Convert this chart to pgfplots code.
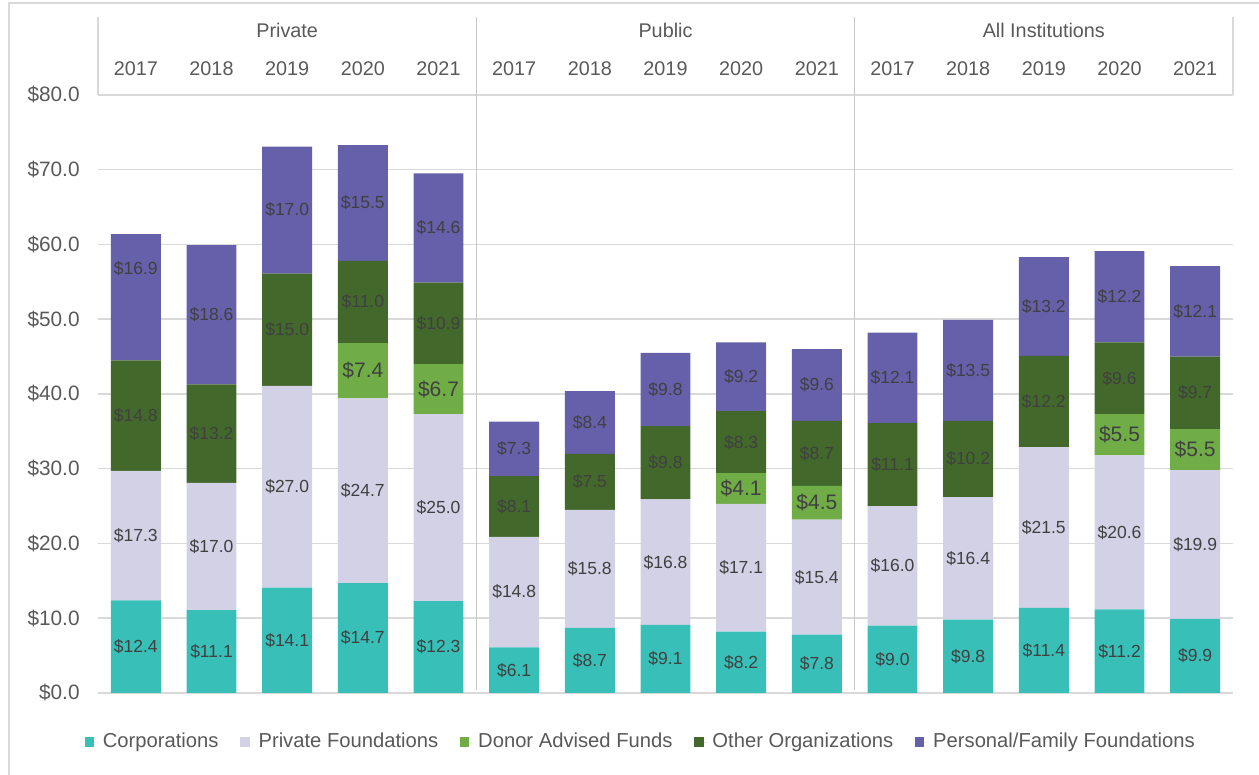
\documentclass[border=0pt]{standalone}
\usepackage{fontspec}
\setmainfont{Liberation Sans}
\usepackage{pgfplots}
\usepackage{pgfplotstable}
\pgfplotsset{compat=1.18}

\definecolor{corp}{HTML}{38BFB8}
\definecolor{pfnd}{HTML}{D3D1E6}
\definecolor{daf}{HTML}{70AD47}
\definecolor{oth}{HTML}{43682B}
\definecolor{pers}{HTML}{6560A9}
\definecolor{gridc}{HTML}{D9D9D9}
\definecolor{sepc}{HTML}{C8C8C8}
\definecolor{txt}{HTML}{595959}
\definecolor{lbl}{HTML}{404040}

% giving by institution type and year (billions)
\pgfplotstableread{
x  corp pf   daf oth  pers
0  12.4 17.3 0   14.8 16.9
1  11.1 17.0 0   13.2 18.6
2  14.1 27.0 0   15.0 17.0
3  14.7 24.7 7.4 11.0 15.5
4  12.3 25.0 6.7 10.9 14.6
5  6.1  14.8 0   8.1  7.3
6  8.7  15.8 0   7.5  8.4
7  9.1  16.8 0   9.8  9.8
8  8.2  17.1 4.1 8.3  9.2
9  7.8  15.4 4.5 8.7  9.6
10 9.0  16.0 0   11.1 12.1
11 9.8  16.4 0   10.2 13.5
12 11.4 21.5 0   12.2 13.2
13 11.2 20.6 5.5 9.6  12.2
14 9.9  19.9 5.5 9.7  12.1
}\giving

% empty DAF segments get no label
\tikzset{
  zero hide/.code={%
    \pgfmathfloatifflags{\pgfplotspointmeta}{0}{\pgfkeys{/tikz/coordinate}}{}},
  % the first personal/family label sits higher in the original
  first up/.code={\ifnum\coordindex=0 \pgfkeysalso{/tikz/yshift=14.5pt}\fi},
}
\pgfplotsset{
  seglabel/.style={
    point meta=explicit,
    nodes near coords={\$\pgfmathprintnumber[fixed,fixed zerofill,precision=1]{\pgfplotspointmeta}},
    every node near coord/.append style={anchor=center, inner sep=0pt,
      font=\fontsize{8.75}{10}\selectfont, text=lbl, zero hide},
  }
}

\begin{document}
\begin{tikzpicture}
\begin{axis}[
  name=ax, at={(0,0)}, anchor=south west,
  scale only axis, width=567.5pt, height=299pt,
  ybar stacked, bar width=0.66,
  xmin=-0.5, xmax=14.5, ymin=0, ymax=80,
  xtick={0,...,14},
  xticklabels={2017,2018,2019,2020,2021,2017,2018,2019,2020,2021,2017,2018,2019,2020,2021},
  xticklabel pos=upper,
  xticklabel style={anchor=center, yshift=13.2pt, font=\fontsize{9.9}{11}\selectfont},
  ytick={0,10,...,80},
  yticklabels={\$0.0,\$10.0,\$20.0,\$30.0,\$40.0,\$50.0,\$60.0,\$70.0,\$80.0},
  yticklabel style={anchor=east, inner sep=0pt, xshift=-9pt, font=\fontsize{10.4}{12}\selectfont},
  ymajorgrids, grid style={gridc, line width=0.75pt},
  axis line style={draw=none}, major tick length=0pt,
  tick label style={text=txt},
  /pgf/number format/assume math mode=true,
  clip=false,
  legend style={at={(0.479,-0.082)}, anchor=center, draw=none,
    font=\fontsize{10.1}{12}\selectfont, text=txt,
    /tikz/every even column/.append style={column sep=8.8pt}},
  legend columns=5, legend cell align=left,
  legend image code/.code={\fill[#1] (0pt,-2.4pt) rectangle (4.8pt,2.4pt);
    \path (4.8pt,0pt) -- (7.2pt,0pt);},
]
\addplot[fill=corp, draw=none, seglabel] table[x=x,y=corp,meta=corp] {\giving};
\addlegendentry{Corporations}
\addplot[fill=pfnd, draw=none, seglabel] table[x=x,y=pf,meta=pf] {\giving};
\addlegendentry{Private Foundations}
\addplot[fill=daf, draw=none, seglabel,
  every node near coord/.append style={font=\fontsize{10.5}{12}\selectfont}] table[x=x,y=daf,meta=daf] {\giving};
\addlegendentry{Donor Advised Funds}
\addplot[fill=oth, draw=none, seglabel] table[x=x,y=oth,meta=oth] {\giving};
\addlegendentry{Other Organizations}
\addplot[fill=pers, draw=none, seglabel,
  every node near coord/.append style={first up}] table[x=x,y=pers,meta=pers] {\giving};
\addlegendentry{Personal/Family Foundations}

% header box and group separators
\draw[gridc, line width=0.75pt] (axis cs:-0.5,80) -- (axis cs:-0.5,90.43);
\draw[gridc, line width=0.75pt] (axis cs:14.5,80) -- (axis cs:14.5,90.43);
\draw[sepc, line width=0.5pt] (axis cs:4.5,90.43) -- (axis cs:4.5,0.4);
\draw[sepc, line width=0.5pt] (axis cs:9.5,90.43) -- (axis cs:9.5,0.4);
\node[font=\fontsize{9.9}{11}\selectfont, text=txt] at (axis cs:2,88.7) {Private};
\node[font=\fontsize{9.9}{11}\selectfont, text=txt] at (axis cs:7,88.7) {Public};
\node[font=\fontsize{9.9}{11}\selectfont, text=txt] at (axis cs:12,88.7) {All Institutions};
\end{axis}
\draw[gridc, line width=0.75pt] (-44.5pt,-41pt) -- (-44.5pt,345pt) -- (580.5pt,345pt);
\pgfresetboundingbox
\useasboundingbox (-49pt,-41pt) rectangle (580.5pt,346.5pt);
\end{tikzpicture}
\end{document}
